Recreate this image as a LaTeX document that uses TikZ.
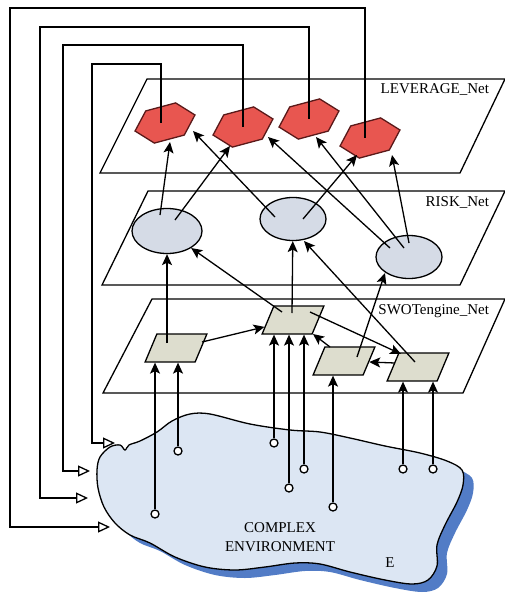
\documentclass[tikz,border=0pt]{standalone}
\usepackage{fontspec}
\setmainfont{Liberation Serif}
\usepackage{tikz}
\usetikzlibrary{shapes.geometric, arrows.meta, positioning}
\definecolor{hexred}{RGB}{232,86,80}
\definecolor{hexedge}{RGB}{90,25,25}
\definecolor{riskgray}{RGB}{213,219,230}
\definecolor{swotbeige}{RGB}{221,221,206}
\definecolor{envblue}{RGB}{220,230,243}
\definecolor{envshadow}{RGB}{82,124,198}
\newcommand{\envoutline}{plot[smooth cycle, tension=0.55] coordinates {(100,457) (110,447) (120,445) (125,450) (129,445) (140,441) (157,432) (172,421) (190,414) (210,414) (250,424) (290,430) (320,432) (350,438) (385,446) (420,453) (447,461) (462,470) (463,485) (457,502) (445,525) (437,545) (437,566) (428,580) (412,584) (385,580) (350,572) (320,564) (295,563) (265,567) (235,570) (205,567) (175,557) (150,543) (130,535) (115,523) (104,507) (98,488) (97,470)}}

\begin{document}
\begin{tikzpicture}[x=1pt, y=-1pt, >={Stealth[length=11pt,width=10pt,inset=2.5pt]}, line width=1.3pt,
  every node/.style={font=\fontsize{15}{19}\selectfont},
  hexnode/.style={regular polygon, regular polygon sides=6, minimum size=62pt, inner sep=0pt, draw=hexedge, fill=hexred, transform shape, rotate=15, yscale=0.62},
  risknode/.style={ellipse, draw, fill=riskgray, minimum width=66pt, minimum height=43pt, inner sep=0pt},
  swotnode/.style={rectangle, draw, fill=swotbeige, minimum width=50pt, minimum height=28pt, inner sep=0pt, transform shape, xslant=0.42},
  probe/.style={circle, draw, fill=white, minimum size=8pt, inner sep=0pt},
  fbline/.style={-{Triangle[open,length=12pt,width=11pt]}}]

\useasboundingbox (0,0) rectangle (505,596);

% Planes
\draw (147,79) -- (505,79) -- (460,173) -- (100,173) -- cycle;
\node[anchor=east] (levlabel) at (493,90) {LEVERAGE\_Net};
\draw (148,191) -- (505,191) -- (460,285) -- (102,285) -- cycle;
\node[anchor=east] (risklabel) at (493,203) {RISK\_Net};
\draw (152,299) -- (505,299) -- (463,393) -- (103,393) -- cycle;
\node[anchor=east] (swotlabel) at (493,311) {SWOTengine\_Net};

% Environment
\fill[envshadow, shift={(10,8)}] \envoutline;
\draw[fill=envblue] \envoutline;
\node[align=center] (envlabel) at (280,537) {COMPLEX\\ENVIRONMENT};
\node (envname) at (390,563) {E};

% LEVERAGE_Net
\node[hexnode] (hex1) at (165,123) {};
\node[hexnode] (hex2) at (243,127) {};
\node[hexnode] (hex3) at (309,119) {};
\node[hexnode] (hex4) at (370,138) {};

% RISK_Net
\node[risknode, minimum width=70pt, minimum height=45pt] (risk1) at (167,231) {};
\node[risknode] (risk2) at (293,219) {};
\node[risknode] (risk3) at (409,257) {};

% SWOTengine_Net
\node[swotnode] (swot1) at (176,348) {};
\node[swotnode] (swot2) at (293,320) {};
\node[swotnode] (swot3) at (344,361) {};
\node[swotnode] (swot4) at (418,367) {};

% Probes
\node[probe] (env1) at (155,514) {};
\node[probe] (env2) at (178,451) {};
\node[probe] (env3) at (274,443) {};
\node[probe] (env4) at (289,488) {};
\node[probe] (env5) at (304,469) {};
\node[probe] (env6) at (333,507) {};
\node[probe] (env7) at (403,469) {};
\node[probe] (env8) at (433,469) {};

% Connections: environment to SWOT
\draw[->] (env1) -- (env1 |- swot1.south);
\draw[->] (env2) -- (env2 |- swot1.south);
\draw[->] (env3) -- (env3 |- swot2.south);
\draw[->] (env4) -- (env4 |- swot2.south);
\draw[->] (env5) -- (env5 |- swot2.south);
\draw[->] (env6) -- (env6 |- swot3.south);
\draw[->] (env7) -- (env7 |- swot4.south);
\draw[->] (env8) -- (env8 |- swot4.south);

% Connections: inside SWOT
\draw[->] ([shift={(26,-6)}]swot1.center) -- (swot2);
\draw[->] ([shift={(17,-8)}]swot2.center) -- ([shift={(-17,-13)}]swot4.center);
\draw[->] ([shift={(-14,-14)}]swot3.center) -- ([shift={(20,14)}]swot2.center);
\draw[->] ([shift={(-23,-4)}]swot4.center) -- (swot3);

% Connections: SWOT to RISK
\draw[->] ([shift={(-9,-5)}]swot1.center) -- (risk1);
\draw[->] ([shift={(-11,-8)}]swot2.center) -- (risk1);
\draw[->] ([shift={(-1,-7)}]swot2.center) -- (risk2);
\draw[->] ([shift={(13,-4)}]swot3.center) -- ([shift={(-24,16)}]risk3.center);
\draw[->] ([shift={(-3,-5)}]swot4.center) -- ([shift={(11,22)}]risk2.center);

% Connections: RISK to LEVERAGE
\draw[->] ([shift={(-7,-16)}]risk1.center) -- ([shift={(5,19)}]hex1.center);
\draw[->] ([shift={(8,-11)}]risk1.center) -- ([shift={(-13,19)}]hex2.center);
\draw[->] ([shift={(-18,-2)}]risk2.center) -- ([shift={(28,8)}]hex1.center);
\draw[->] ([shift={(10,0)}]risk2.center) -- ([shift={(-13,17)}]hex4.center);
\draw[->] ([shift={(-19,-9)}]risk3.center) -- ([shift={(25,10)}]hex2.center);
\draw[->] ([shift={(-5,-9)}]risk3.center) -- ([shift={(7,18)}]hex3.center);
\draw[->] ([shift={(0,-14)}]risk3.center) -- ([shift={(22,17)}]hex4.center);

% Feedback to the environment
\coordinate (in1) at (115,443);
\coordinate (in2) at (90,471);
\coordinate (in3) at (88,498);
\coordinate (in4) at (110,527);
\draw[fbline] ([xshift=-4pt]hex1.center) |- (92,64) |- (in1);
\draw[fbline] (hex2.center) |- (63,45) |- (in2);
\draw[fbline] (hex3.center) |- (40,27) |- (in3);
\draw[fbline] ([xshift=-5pt]hex4.center) |- (10,8) |- (in4);

\end{tikzpicture}
\end{document}
